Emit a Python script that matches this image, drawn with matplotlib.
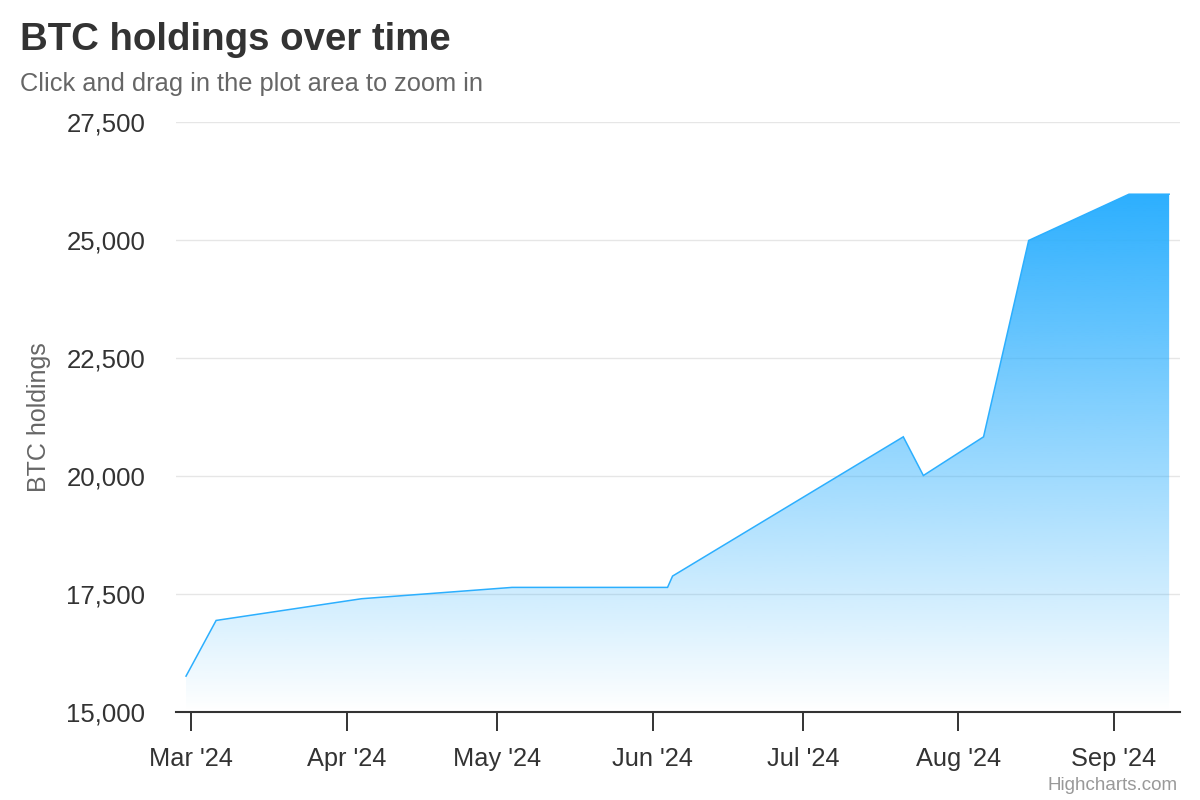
import matplotlib
matplotlib.use("Agg")
import matplotlib.pyplot as plt
import matplotlib.dates as mdates
import matplotlib.patches as mpatches
import numpy as np
import pandas as pd
from matplotlib.colors import to_rgb

# ---- data ----
dates = ['2024-02-29', '2024-03-06', '2024-04-04', '2024-05-04', '2024-06-04',
         '2024-06-05', '2024-07-21', '2024-07-25', '2024-08-06', '2024-08-15',
         '2024-09-04', '2024-09-12']
holdings = [15760, 16940, 17400, 17640, 17640, 17880, 20830, 20010, 20830,
            24990, 25970, 25970]
y_ticks = [15000, 17500, 20000, 22500, 25000, 27500]
x_ticks = ['2024-03-01', '2024-04-01', '2024-05-01', '2024-06-01',
           '2024-07-01', '2024-08-01', '2024-09-01']

title = "BTC holdings over time"
subtitle = "Click and drag in the plot area to zoom in"
y_title = "BTC holdings"
credit = "Highcharts.com"

plt.rcParams['font.family'] = ['Liberation Sans', 'DejaVu Sans']

color = '#2caffe'
x = mdates.date2num(pd.to_datetime(dates))
y = np.array(holdings, dtype=float)

fig = plt.figure(figsize=(12, 8), dpi=100)
ax = fig.add_axes([176/1200, 1-712/800, (1180-176)/1200, (712-122)/800])

ymin, ymax = 15000, 27500
xlo = mdates.date2num(pd.Timestamp('2024-02-27'))
xhi = mdates.date2num(pd.Timestamp('2024-09-14 04:00'))

# gradient fill
poly = ax.fill_between(x, y, ymin, color='none', lw=0)
rgb = to_rgb(color)
n = 256
grad = np.zeros((n, 1, 4))
grad[:, 0, 0:3] = rgb
grad[:, 0, 3] = np.linspace(0, 1, n)  # bottom -> top
img = ax.imshow(grad, extent=[x.min(), x.max(), ymin, y.max()], origin='lower',
                aspect='auto', interpolation='bilinear', zorder=1)
path = poly.get_paths()[0]
clip = mpatches.PathPatch(path, transform=ax.transData, facecolor='none', edgecolor='none')
ax.add_patch(clip)
img.set_clip_path(clip)

ax.plot(x, y, color=color, lw=1.1, zorder=3, solid_joinstyle='miter')

ax.set_xlim(xlo, xhi)
ax.set_ylim(ymin, ymax)

ax.set_yticks(y_ticks)
ax.set_yticklabels([f"{v:,}" for v in y_ticks])
xt = mdates.date2num(pd.to_datetime(x_ticks))
ax.set_xticks(xt)
ax.set_xticklabels([pd.Timestamp(d).strftime("%b '%y") for d in x_ticks])

ax.grid(axis='y', color='#e6e6e6', lw=1.0, zorder=0)
ax.set_axisbelow(True)
for s in ['top', 'right', 'left']:
    ax.spines[s].set_visible(False)
ax.spines['bottom'].set_color('#333333')
ax.spines['bottom'].set_linewidth(1.5)
ax.spines['bottom'].set_zorder(4)

ax.tick_params(axis='y', length=0, pad=22, labelsize=18.5, labelcolor='#333333')
ax.tick_params(axis='x', length=13.5, width=1.4, color='#333333', pad=11.5,
               labelsize=18.3, labelcolor='#333333')

fig.text(20/1200, 1-50/800, title, fontsize=27.6, fontweight='bold', color='#333333',
         ha='left', va='baseline')
fig.text(20/1200, 1-91/800, subtitle, fontsize=18.3, color='#666666',
         ha='left', va='baseline')
fig.text(39/1200, 1-417/800, y_title, fontsize=18, color='#666666', rotation=90,
         ha='center', va='center')
fig.text(1178/1200, 1-790/800, credit, fontsize=13.5, color='#999999',
         ha='right', va='baseline')

fig.savefig('out.png', dpi=100)
